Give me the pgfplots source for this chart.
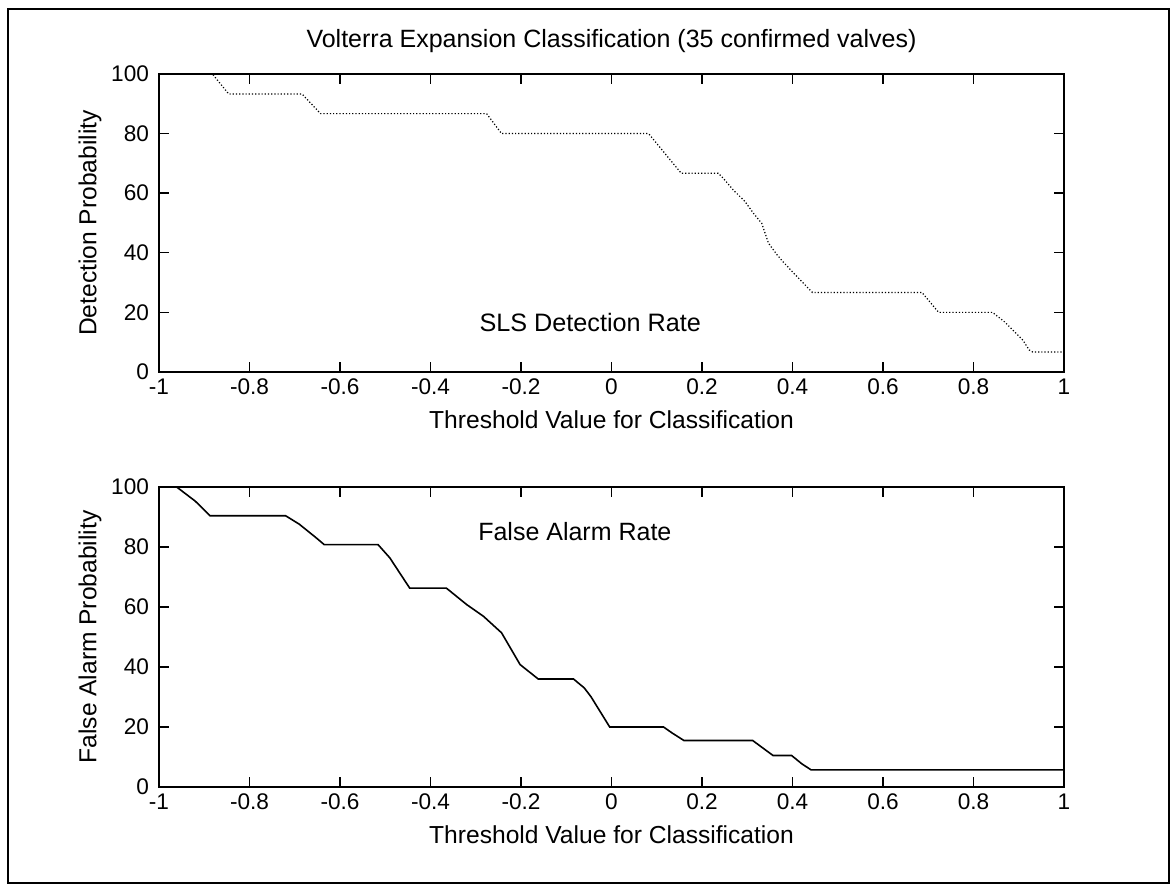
\documentclass[border=0pt]{standalone}
\usepackage{fontspec}
\setmainfont{Liberation Sans}
\usepackage{pgfplots}
\pgfplotsset{compat=1.18}
\pgfplotsset{
  myaxis/.style={
    scale only axis, width=452.5pt,
    xmin=-1, xmax=1, ymin=0, ymax=100,
    axis line style={line width=0.9pt},
    tick style={line width=0.7pt, black},
    major tick length=5pt, tick align=inside,
    xtick pos=both, ytick pos=both,
    xticklabel pos=lower, yticklabel pos=left,
    xtick={-1,-0.8,-0.6,-0.4,-0.2,0,0.2,0.4,0.6,0.8,1},
    xticklabels={-1,-0.8,-0.6,-0.4,-0.2,0,0.2,0.4,0.6,0.8,1},
    ytick={0,20,40,60,80,100},
    /pgf/number format/assume math mode=true,
    tick label style={font=\fontsize{11.3}{13}\selectfont},
    yticklabel style={xshift=-1.5pt},
    label style={font=\fontsize{12.3}{14}\selectfont},
    xlabel style={at={([yshift=-24pt]axis description cs:0.5,0)}, anchor=center},
    ylabel style={at={([xshift=-34.5pt]axis description cs:0,0.5)}, anchor=center},
  }
}
\begin{document}
\begin{tikzpicture}
\useasboundingbox (0pt,0pt) rectangle (586.5pt,444pt);
\draw[line width=1pt] (4pt,2.5pt) rectangle (584.5pt,439.5pt);

\begin{axis}[myaxis, height=149pt, at={(79.5pt,258pt)}, anchor=south west,
  title={Volterra Expansion Classification (35 confirmed valves)},
  title style={at={([yshift=10.5pt]axis description cs:0.5,1)}, anchor=center, font=\fontsize{12.5}{14}\selectfont},
  xlabel={Threshold Value for Classification},
  ylabel={Detection Probability}]
\addplot[black, densely dotted, line width=0.6pt] coordinates {
(-1,100) (-0.882,100) (-0.846,93.3) (-0.684,93.3) (-0.643,86.7) (-0.276,86.7)
(-0.243,80) (0.082,80) (0.154,66.7) (0.236,66.7) (0.247,65.0) (0.269,61.1)
(0.295,57.2) (0.314,53.2) (0.332,49.9) (0.347,43.2) (0.366,39.3) (0.379,37.0)
(0.403,33.1) (0.433,28.4) (0.444,26.7) (0.686,26.7) (0.723,20) (0.842,20)
(0.868,16.9) (0.909,10.7) (0.923,7.4) (0.931,6.7) (1,6.7)
};
\node[font=\fontsize{12.6}{14}\selectfont] at (axis cs:-0.047,16.5) {SLS Detection Rate};
\end{axis}

\begin{axis}[myaxis, height=150pt, at={(79.5pt,50.5pt)}, anchor=south west,
  xlabel={Threshold Value for Classification},
  ylabel={False Alarm Probability}]
\addplot[black, line width=0.8pt] coordinates {
(-1,100) (-0.961,100) (-0.92,95.3) (-0.887,90.4) (-0.72,90.4) (-0.69,87.6)
(-0.653,83.1) (-0.635,80.8) (-0.516,80.8) (-0.49,76.4) (-0.446,66.3) (-0.365,66.3)
(-0.320,60.8) (-0.283,56.9) (-0.243,51.4) (-0.202,40.8) (-0.162,36) (-0.084,36)
(-0.06,33) (-0.045,30) (-0.004,20) (0.115,20) (0.134,18) (0.16,15.5) (0.312,15.5)
(0.338,12.6) (0.357,10.5) (0.398,10.5) (0.42,7.8) (0.441,5.7) (1,5.7)
};
\node[font=\fontsize{12.5}{14}\selectfont] at (axis cs:-0.081,85.3) {False Alarm Rate};
\end{axis}
\end{tikzpicture}
\end{document}
